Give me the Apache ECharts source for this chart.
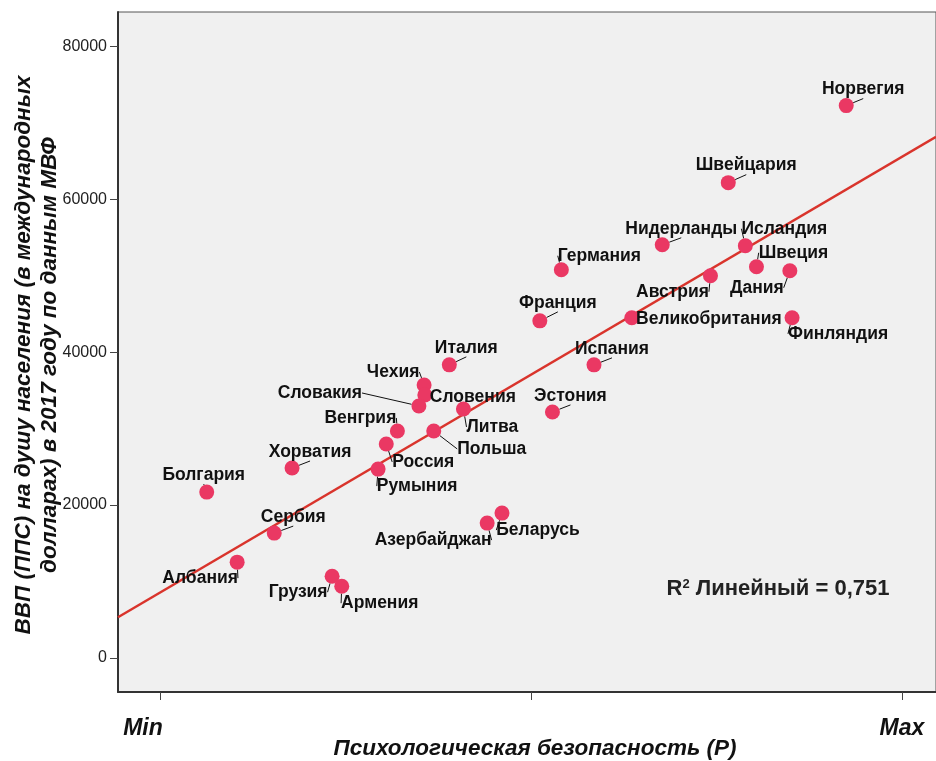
<!DOCTYPE html>
<html>
<head>
<meta charset="utf-8">
<script src="https://cdn.jsdelivr.net/npm/echarts@6/dist/echarts.min.js"></script>
<style>html,body{margin:0;padding:0;background:#fff}#c{width:936px;height:761px}</style>
</head>
<body>
<div id="c"></div>
<script>
// ---- data ----
const countries = ["Норвегия","Швейцария","Нидерланды","Исландия","Германия","Швеция","Дания","Австрия","Франция","Великобритания","Финляндия","Италия","Испания","Чехия","Словения","Словакия","Литва","Польша","Венгрия","Россия","Румыния","Эстония","Беларусь","Азербайджан","Грузия","Армения","Болгария","Хорватия","Сербия","Албания"];
const psySafety = [92.5,76.6,67.7,78.9,54.1,80.4,84.9,74.2,51.2,63.6,85.2,39.0,58.5,35.6,35.7,34.9,40.9,36.9,32.0,30.5,29.4,52.9,46.1,44.1,23.2,24.5,6.3,17.8,15.4,10.4];
const gdpPPP = [72280,62190,54060,53930,50790,51180,50660,50000,44100,44500,44500,38340,38340,35710,34400,32960,32570,29690,29690,27990,24700,32180,18940,17630,10680,9370,21690,24840,16320,12520];
const trendX = [-5.66, 104.6];
const trendY = [5310, 68200];
const yTicks = [0, 20000, 40000, 60000, 80000];
const xTicks = [0, 50, 100];
const xTickLabels = {0: "Min", 50: "", 100: "Max"};

// ---- label offsets (layout only) ----
const labelOffsets = {
  "Норвегия":[17,-16],"Швейцария":[18,-17],"Нидерланды":[19,-16],"Исландия":[39,-17],
  "Германия":[38,-14],"Швеция":[37,-14],"Дания":[-33,17],"Австрия":[-38,16],
  "Франция":[18,-18],"Великобритания":[77,1],"Финляндия":[46,16],"Италия":[17,-17],
  "Испания":[18,-16],"Чехия":[-31,-13],"Словения":[48,2],"Словакия":[-99,-13],
  "Литва":[29,18],"Польша":[58,18],"Венгрия":[-37,-13],"Россия":[37,18],
  "Румыния":[39,17],"Эстония":[18,-16],"Беларусь":[36,17],"Азербайджан":[-54,17],
  "Грузия":[-34,16],"Армения":[38,17],"Болгария":[-3,-17],"Хорватия":[18,-16],
  "Сербия":[19,-16],"Албания":[-37,16]
};

const pts = countries.map((c, i) => ({name: c, value: [psySafety[i], gdpPPP[i]]}));
const FONT = "'Liberation Sans', Arial, sans-serif";

const chart = echarts.init(document.getElementById('c'), null, {renderer: 'canvas'});
chart.setOption({
  animation: false,
  backgroundColor: '#fff',
  grid: {left: 118, top: 12, right: -3, bottom: 69, show: true, backgroundColor: '#f0f0f0', borderColor: '#555', borderWidth: 1},
  xAxis: {
    type: 'value', min: -5.66, max: 104.6,
    splitLine: {show: false},
    axisLine: {show: true, onZero: false, lineStyle: {color: '#333', width: 2}},
    axisTick: {show: true, customValues: xTicks, length: 8, lineStyle: {color: '#444', width: 1}},
    axisLabel: {customValues: xTicks, margin: 25,
      formatter: v => { const t = xTickLabels[v] ?? ''; return t === 'Min' ? '{mn|Min}' : t; },
      rich: {mn: {padding: [0, 34, 0, 0], fontFamily: FONT, fontSize: 23, fontWeight: 'bold', fontStyle: 'italic', color: '#111'}},
      fontFamily: FONT, fontSize: 23, fontWeight: 'bold', fontStyle: 'italic', color: '#111'}
  },
  yAxis: {
    type: 'value', min: -4480, max: 84530,
    splitLine: {show: false},
    axisLine: {show: true, onZero: false, lineStyle: {color: '#333', width: 2}},
    axisTick: {show: true, customValues: yTicks, length: 8, lineStyle: {color: '#444', width: 1}},
    axisLabel: {customValues: yTicks, margin: 11, formatter: v => String(v), fontFamily: FONT, fontSize: 16, color: '#222'}
  },
  graphic: [
    {type: 'text', x: 37, y: 355, rotation: Math.PI / 2,
      style: {text: 'ВВП (ППС) на душу населения (в международных\nдолларах) в 2017 году по данным МВФ',
        font: "italic bold 22.5px " + FONT, fill: '#111', align: 'center', verticalAlign: 'middle', lineHeight: 26}},
    {type: 'text', x: 535, y: 749,
      style: {text: 'Психологическая безопасность (P)', font: "italic bold 22.5px " + FONT, fill: '#111', align: 'center', verticalAlign: 'middle'}},
    {type: 'text', x: 778, y: 589,
      style: {text: 'R{s|2} Линейный = 0,751', font: "bold 22px " + FONT, fill: '#222', align: 'center', verticalAlign: 'middle',
        rich: {s: {font: "bold 13px " + FONT, fill: '#222', padding: [0, 0, 10, 0]}}}}
  ],
  series: [
    {
      type: 'line', data: trendX.map((x, i) => [x, trendY[i]]), showSymbol: false, symbol: 'none',
      lineStyle: {color: '#d9342c', width: 2.5}, z: 3, silent: true
    },
    {
      type: 'scatter', data: pts, symbolSize: 15, z: 4,
      itemStyle: {color: '#ea3863', opacity: 1},
      label: {show: true, position: 'inside', formatter: p => p.name, fontFamily: FONT, fontSize: 17.5, fontWeight: 'bold', color: '#111'},
      labelLine: {show: true, lineStyle: {color: '#111', width: 1}},
      labelLayout: p => {
        const o = labelOffsets[countries[p.dataIndex]];
        return {dx: o[0], dy: o[1], hideOverlap: false};
      }
    }
  ]
});
</script>
</body>
</html>
